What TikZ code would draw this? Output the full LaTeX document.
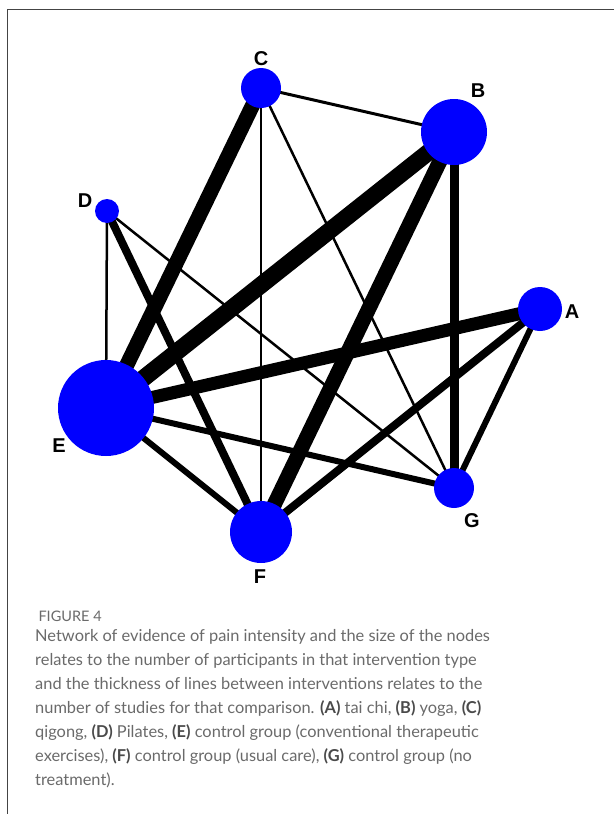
\documentclass[tikz,border=0pt]{standalone}
\usepackage{fontspec}
\setmainfont{Lato}
\newfontfamily\lblfont{Liberation Sans}
\usetikzlibrary{backgrounds}
\definecolor{capgray}{HTML}{6A6A6A}
\definecolor{capdark}{HTML}{4A4A4A}
\definecolor{framegray}{HTML}{444444}
\newcommand{\rf}[1]{{\bfseries\color{capdark}(#1)}}

\begin{document}
\begin{tikzpicture}[x=1pt, y=-1pt,
  trt/.style={circle, fill=blue, inner sep=0pt, minimum size=#1},
  lbl/.style={font=\fontsize{20}{20}\lblfont\bfseries}]
\useasboundingbox (0,0) rectangle (614,814);

% frame
\draw[framegray, line width=1.5pt] (614,9.5) -- (7.5,9.5) -- (7.5,814);

% treatments, size = participants
\node[trt=44pt] (A) at (540,309) {};
\node[trt=66pt] (B) at (454,132) {};
\node[trt=40pt] (C) at (261,88) {};
\node[trt=24pt] (D) at (107,211) {};
\node[trt=96pt] (E) at (106,408) {};
\node[trt=62pt] (F) at (261,532) {};
\node[trt=40pt] (G) at (454,488) {};

\node[lbl] (lA) at (572,312) {A};
\node[lbl] (lB) at (478,91) {B};
\node[lbl] (lC) at (261,59) {C};
\node[lbl] (lD) at (85,201) {D};
\node[lbl] (lE) at (59,446) {E};
\node[lbl] (lF) at (260,577) {F};
\node[lbl] (lG) at (472,521) {G};

% comparisons, width = number of studies
\begin{pgfonlayer}{background}
\foreach \a/\b/\w in {E/B/17, C/E/15, B/F/15, E/A/13, B/G/9, D/F/8,
    A/F/8, E/G/6, E/F/6, A/G/6, C/B/3, C/F/2.5, C/G/2.5, D/E/2.5, D/G/2.5}
  \draw[line width=\w pt] (\a.center) -- (\b.center);
\end{pgfonlayer}

% caption
\node[anchor=base west, text=capgray, font=\fontsize{14.5}{14.5}\selectfont]
  (fig) at (35,621) {FIGURE 4};
\node[anchor=north west, inner sep=0pt, align=left, text=capgray,
  font=\fontsize{16.4}{24}\selectfont] (cap) at (35,629) {%
Network of evidence of pain intensity and the size of the nodes\\
relates to the number of participants in that intervention type\\
and the thickness of lines between interventions relates to the\\
number of studies for that comparison. \rf{A} tai chi, \rf{B} yoga, \rf{C}\\
qigong, \rf{D} Pilates, \rf{E} control group (conventional therapeutic\\
exercises), \rf{F} control group (usual care), \rf{G} control group (no\\
treatment).};
\end{tikzpicture}
\end{document}
